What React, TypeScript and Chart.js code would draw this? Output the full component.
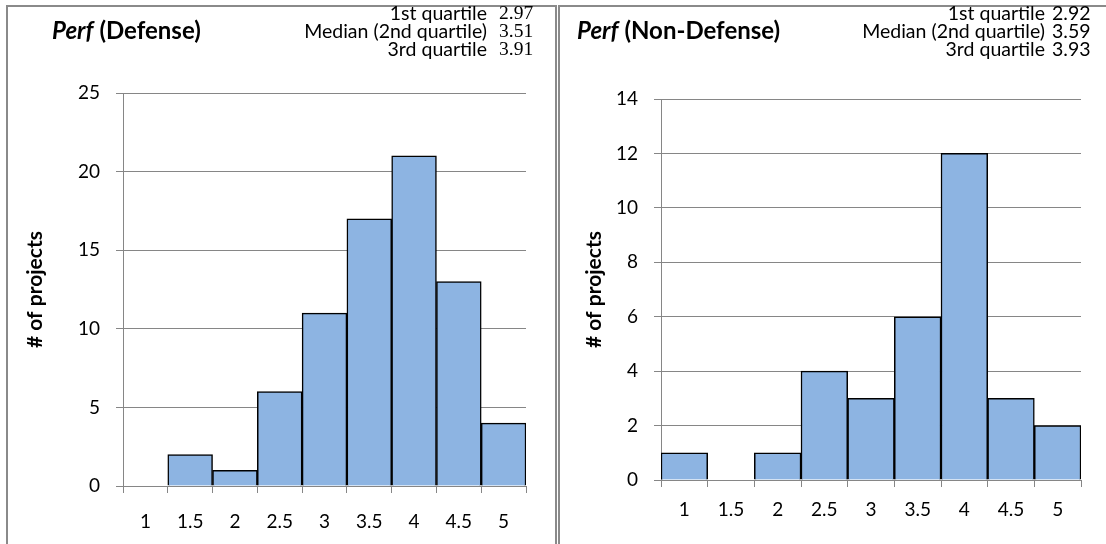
import React, { useEffect, useRef } from "react";
import { Chart, registerables } from "chart.js";

Chart.register(...registerables);

// ---------- data ----------
const categories = ["1", "1.5", "2", "2.5", "3", "3.5", "4", "4.5", "5"];
const defenseCounts = [0, 2, 1, 6, 11, 17, 21, 13, 4];
const nonDefenseCounts = [1, 0, 1, 4, 3, 6, 12, 3, 2];
const defenseYMax = 25;
const defenseYStep = 5;
const nonDefenseYMax = 14;
const nonDefenseYStep = 2;
const quartileLabels = ["1st quartile", "Median (2nd quartile)", "3rd quartile"];
const defenseQuartiles = ["2.97", "3.51", "3.91"];
const nonDefenseQuartiles = ["2.92", "3.59", "3.93"];
const yAxisTitle = "# of projects";

// ---------- styles ----------
const FONT = "Lato, 'Open Sans', sans-serif";
const GRID = "#868686";
const BAR_FILL = "#8DB4E2";
const PANEL_BORDER = "#8a8a8a";

type Layout = {
  canvasLeft: number;
  canvasWidth: number;
  padLeft: number;
  yWidth: number;
  padRight: number;
  padTop: number;
  xHeight: number;
  xPad: number;
};

function HistPanel(props: {
  values: number[];
  yMax: number;
  yStep: number;
  layout: Layout;
}) {
  const ref = useRef<HTMLCanvasElement | null>(null);
  const { values, yMax, yStep, layout } = props;

  useEffect(() => {
    if (!ref.current) return;
    const chart = new Chart(ref.current, {
      type: "bar",
      data: {
        labels: categories,
        datasets: [
          {
            data: values,
            backgroundColor: BAR_FILL,
            borderColor: "#000000",
            borderWidth: 1.5,
            barPercentage: 1,
            categoryPercentage: 1,
          },
        ],
      },
      options: {
        animation: false,
        responsive: false,
        maintainAspectRatio: false,
        layout: {
          padding: {
            left: layout.padLeft,
            right: layout.padRight,
            top: layout.padTop,
            bottom: 0,
          },
        },
        plugins: {
          legend: { display: false },
          tooltip: { enabled: false },
        },
        scales: {
          x: {
            grid: {
              display: true,
              drawOnChartArea: false,
              drawTicks: true,
              tickLength: 7,
              color: GRID,
              offset: true,
            },
            border: { display: true, color: GRID, width: 1 },
            ticks: {
              font: { family: FONT, size: 19 },
              color: "#000",
              padding: layout.xPad,
              maxRotation: 0,
              autoSkip: false,
            },
            afterFit: (s: any) => {
              s.height = layout.xHeight;
            },
          },
          y: {
            min: 0,
            max: yMax,
            grid: {
              color: GRID,
              tickLength: 7,
              drawTicks: true,
            },
            border: { display: true, color: GRID, width: 1 },
            ticks: {
              stepSize: yStep,
              font: { family: FONT, size: 19 },
              color: "#000",
              padding: 16,
            },
            title: {
              display: true,
              text: yAxisTitle,
              color: "#000",
              font: { family: FONT, size: 21, weight: "bold" },
              padding: { top: 3, bottom: 0 },
            },
            afterFit: (s: any) => {
              s.width = layout.yWidth;
            },
          },
        },
      },
    });
    return () => chart.destroy();
  }, [values, yMax, yStep, layout]);

  return (
    <canvas
      ref={ref}
      width={layout.canvasWidth}
      height={544}
      style={{
        position: "absolute",
        left: layout.canvasLeft,
        top: 0,
        width: layout.canvasWidth,
        height: 544,
      }}
    />
  );
}

function Header(props: {
  title: string;
  titleLeft: number;
  labelRight: number;
  valueLeft: number;
  values: string[];
  valueFont: string;
}) {
  const rowCenters = [13, 31, 49];
  const lh = 20;
  return (
    <>
      <div
        style={{
          position: "absolute",
          left: props.titleLeft,
          top: 30 - 15,
          height: 30,
          lineHeight: "30px",
          fontFamily: FONT,
          fontWeight: "bold",
          fontSize: 24,
          color: "#000",
          whiteSpace: "nowrap",
        }}
      >
        <i>Perf</i> {props.title}
      </div>
      {quartileLabels.map((lab, i) => (
        <React.Fragment key={lab}>
          <div
            style={{
              position: "absolute",
              right: 1106 - props.labelRight,
              top: rowCenters[i] - lh / 2,
              height: lh,
              lineHeight: lh + "px",
              fontFamily: FONT,
              fontSize: 19.5,
              color: "#000",
              whiteSpace: "nowrap",
              textAlign: "right",
            }}
          >
            {lab}
          </div>
          <div
            style={{
              position: "absolute",
              left: props.valueLeft,
              top: rowCenters[i] - lh / 2,
              height: lh,
              lineHeight: lh + "px",
              fontFamily: props.valueFont,
              fontSize: 19.5,
              color: "#000",
              whiteSpace: "nowrap",
            }}
          >
            {props.values[i]}
          </div>
        </React.Fragment>
      ))}
    </>
  );
}

const leftLayout: Layout = {
  canvasLeft: 0,
  canvasWidth: 557,
  padLeft: 20,
  yWidth: 103,
  padRight: 31,
  padTop: 93,
  xHeight: 58,
  xPad: 17,
};

const rightLayout: Layout = {
  canvasLeft: 558,
  canvasWidth: 548,
  padLeft: 21,
  yWidth: 82,
  padRight: 25,
  padTop: 99,
  xHeight: 64,
  xPad: 11,
};

export default function App() {
  useEffect(() => {
    document.body.style.margin = "0";
  }, []);
  return (
    <div
      style={{
        position: "relative",
        width: 1106,
        height: 544,
        overflow: "hidden",
        background: "#fff",
      }}
    >
      <div
        style={{
          position: "absolute",
          left: 6,
          top: 5,
          width: 551,
          height: 560,
          boxSizing: "border-box",
          border: `2px solid ${PANEL_BORDER}`,
        }}
      />
      <div
        style={{
          position: "absolute",
          left: 558,
          top: 5,
          width: 600,
          height: 560,
          boxSizing: "border-box",
          border: `2px solid ${PANEL_BORDER}`,
        }}
      />
      <HistPanel
        values={defenseCounts}
        yMax={defenseYMax}
        yStep={defenseYStep}
        layout={leftLayout}
      />
      <HistPanel
        values={nonDefenseCounts}
        yMax={nonDefenseYMax}
        yStep={nonDefenseYStep}
        layout={rightLayout}
      />
      <Header
        title="(Defense)"
        titleLeft={52}
        labelRight={487}
        valueLeft={499}
        values={defenseQuartiles}
        valueFont="'Liberation Serif', 'DejaVu Serif', serif"
      />
      <Header
        title="(Non-Defense)"
        titleLeft={577}
        labelRight={1045}
        valueLeft={1052}
        values={nonDefenseQuartiles}
        valueFont={FONT}
      />
    </div>
  );
}
